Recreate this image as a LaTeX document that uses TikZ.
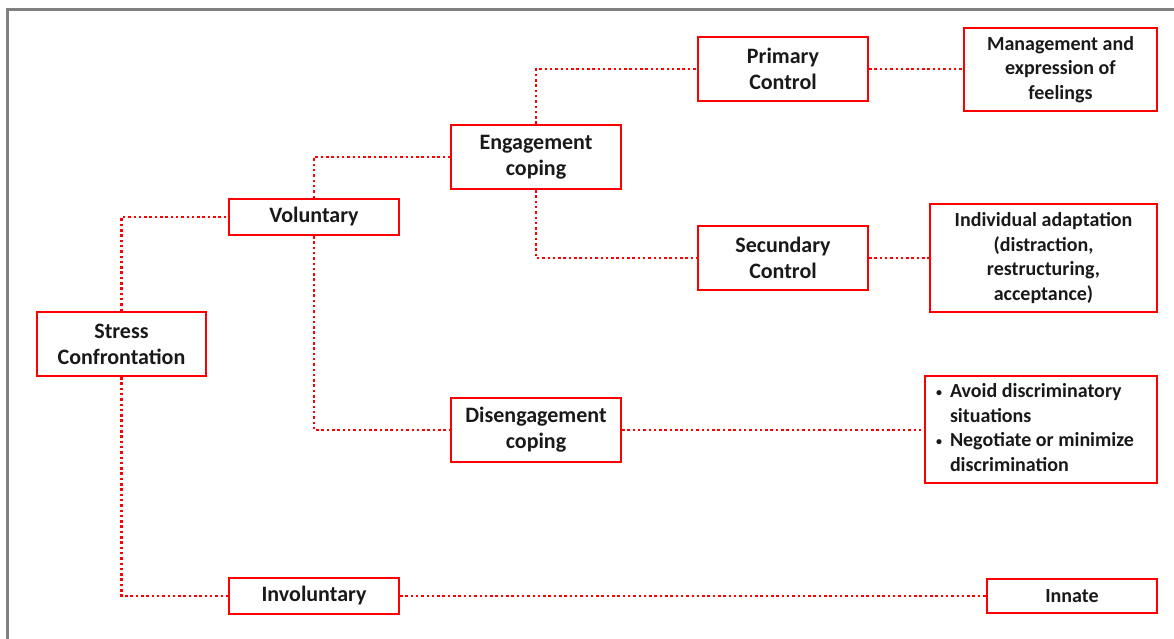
\documentclass[tikz,border=0pt]{standalone}
\usepackage{fontspec}
\setmainfont{Carlito}
\newcommand{\smallbul}{\raisebox{0.15ex}{\scalebox{0.6}{\textbullet}}}
\begin{document}
\begin{tikzpicture}[x=1pt,y=-1pt,
  box/.style={draw=red, line width=2pt, rectangle, inner sep=0pt, align=center,
    font=\fontsize{22}{26}\selectfont\bfseries, text=black!90},
  rbox/.style={box, font=\fontsize{20}{24.5}\selectfont\bfseries},
  conn/.style={draw=red, line width=2.7pt, dash pattern=on 2.5pt off 2.8pt}
]
\useasboundingbox (0,0) rectangle (1174,639);
\draw[color=gray, line width=3pt] (7,639) -- (7,10) -- (1174,10);

\node[box, minimum width=169pt, minimum height=64pt] (stress) at (121.5,344) {Stress\\Confrontation};
\node[box, minimum width=170pt, minimum height=36pt] (vol) at (314,217) {Voluntary};
\node[box, minimum width=170pt, minimum height=36pt] (inv) at (314,596) {Involuntary};
\node[box, minimum width=170pt, minimum height=64pt] (eng) at (536,157) {Engagement\\coping};
\node[box, minimum width=170pt, minimum height=64pt] (dis) at (536,430) {Disengagement\\coping};
\node[box, minimum width=170pt, minimum height=64pt] (prim) at (783,69) {Primary\\Control};
\node[box, minimum width=170pt, minimum height=64pt] (sec) at (783,258) {Secundary\\Control};
\node[rbox, minimum width=193pt, minimum height=83pt] (mgmt) at (1060.5,69.5) {Management and\\expression of\\feelings};
\node[rbox, minimum width=227pt, minimum height=108pt] (ind) at (1043.5,258) {Individual adaptation\\(distraction,\\restructuring,\\acceptance)};
\node[rbox, minimum width=232pt, minimum height=107pt, align=left] (avoid) at (1041,429.5)
  {\hspace*{-8pt}\begin{tabular}{@{}l@{\hspace{8pt}}l@{}}\smallbul & Avoid discriminatory\\ & situations\\ \smallbul & Negotiate or minimize\\ & discrimination\end{tabular}\hspace*{4pt}};
\node[rbox, minimum width=170pt, minimum height=34pt] (innate) at (1072,596) {Innate};

\draw[conn] (stress.north) |- (vol.west);
\draw[conn] (stress.south) |- (inv.west);
\draw[conn] (vol.north) |- (eng.west);
\draw[conn] (vol.south) |- (dis.west);
\draw[conn] (eng.north) |- (prim.west);
\draw[conn] (eng.south) |- (sec.west);
\draw[conn] (prim.east) -- (mgmt.west |- prim.east);
\draw[conn] (sec.east) -- (ind.west);
\draw[conn] (dis.east) -- (avoid.west |- dis.east);
\draw[conn] (inv.east) -- (innate.west);
\end{tikzpicture}
\end{document}
